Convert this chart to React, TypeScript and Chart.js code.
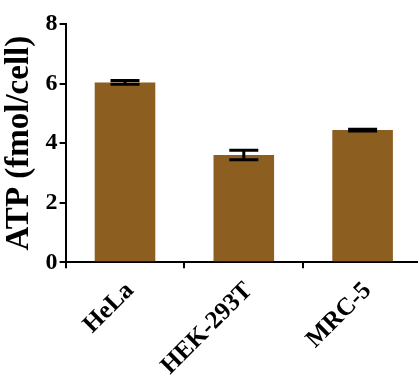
import React, { useEffect, useRef } from "react";
import { Chart, registerables } from "chart.js";

Chart.register(...registerables);

const categories = ["HeLa", "HEK-293T", "MRC-5"];
const atpMeans = [6.04, 3.6, 4.44];
const atpErrors = [0.06, 0.16, 0.03];
const yTickValues = [0, 2, 4, 6, 8];

const barColor = "#8c5e1f";
const serif = "'Liberation Serif', 'Times New Roman', Times, serif";

// Draws SEM whiskers with caps on top of each bar.
const errorBarPlugin = {
  id: "errorBars",
  afterDatasetsDraw(chart: any) {
    const { ctx, scales } = chart;
    const meta = chart.getDatasetMeta(0);
    const y = scales.y;
    ctx.save();
    ctx.strokeStyle = "#000";
    ctx.lineWidth = 3;
    ctx.lineCap = "butt";
    meta.data.forEach((bar: any, i: number) => {
      const x = bar.x;
      const top = y.getPixelForValue(atpMeans[i] + atpErrors[i]);
      const bot = y.getPixelForValue(atpMeans[i] - atpErrors[i]);
      const half = 14.5;
      ctx.beginPath();
      ctx.moveTo(x, top);
      ctx.lineTo(x, bot);
      ctx.moveTo(x - half, top);
      ctx.lineTo(x + half, top);
      ctx.moveTo(x - half, bot);
      ctx.lineTo(x + half, bot);
      ctx.stroke();
    });
    ctx.restore();
  },
};

export default function App() {
  const canvasRef = useRef<HTMLCanvasElement | null>(null);

  useEffect(() => {
    let chart: Chart | null = null;
    let cancelled = false;

    const build = () => {
      if (cancelled || !canvasRef.current) return;
      chart = new Chart(canvasRef.current, {
        type: "bar",
        data: {
          labels: categories,
          datasets: [
            {
              data: atpMeans,
              backgroundColor: barColor,
              borderWidth: 0,
              categoryPercentage: 1,
              barPercentage: 0.51,
            },
          ],
        },
        options: {
          responsive: false,
          animation: false,
          layout: { padding: { left: 0, top: 24, right: 8, bottom: 0 } },
          plugins: {
            legend: { display: false },
            tooltip: { enabled: false },
          },
          scales: {
            x: {
              offset: true,
              border: { color: "#000", width: 2 },
              grid: {
                drawOnChartArea: false,
                color: "#000",
                tickLength: 6,
                lineWidth: 2,
              },
              ticks: {
                color: "#000",
                maxRotation: 45,
                minRotation: 45,
                padding: 8,
                labelOffset: 5,
                font: { family: serif, size: 25, weight: "bold" },
              },
            },
            y: {
              min: 0,
              max: 8,
              afterBuildTicks: (scale: any) => {
                scale.ticks = yTickValues.map((v) => ({ value: v }));
              },
              border: { color: "#000", width: 2 },
              grid: {
                drawOnChartArea: false,
                color: "#000",
                tickLength: 6,
                lineWidth: 2,
              },
              ticks: {
                color: "#000",
                padding: 2,
                font: { family: serif, size: 24, weight: "bold" },
              },
              title: {
                display: true,
                text: "ATP (fmol/cell)",
                color: "#000",
                padding: { top: 0, bottom: 4 },
                font: { family: serif, size: 33, weight: "bold" },
              },
            },
          },
        },
        plugins: [errorBarPlugin],
      });
    };

    const fonts = (document as any).fonts;
    if (fonts && fonts.load) {
      Promise.all([
        fonts.load("bold 24px 'Liberation Serif'"),
        fonts.load("bold 33px 'Liberation Serif'"),
      ])
        .catch(() => undefined)
        .then(build);
    } else {
      build();
    }

    return () => {
      cancelled = true;
      if (chart) chart.destroy();
    };
  }, []);

  return (
    <div
      style={{
        position: "fixed",
        left: 0,
        top: 0,
        width: 418,
        height: 376,
        overflow: "hidden",
        background: "#fff",
      }}
    >
      <canvas ref={canvasRef} width={430} height={389} style={{ display: "block" }} />
    </div>
  );
}
